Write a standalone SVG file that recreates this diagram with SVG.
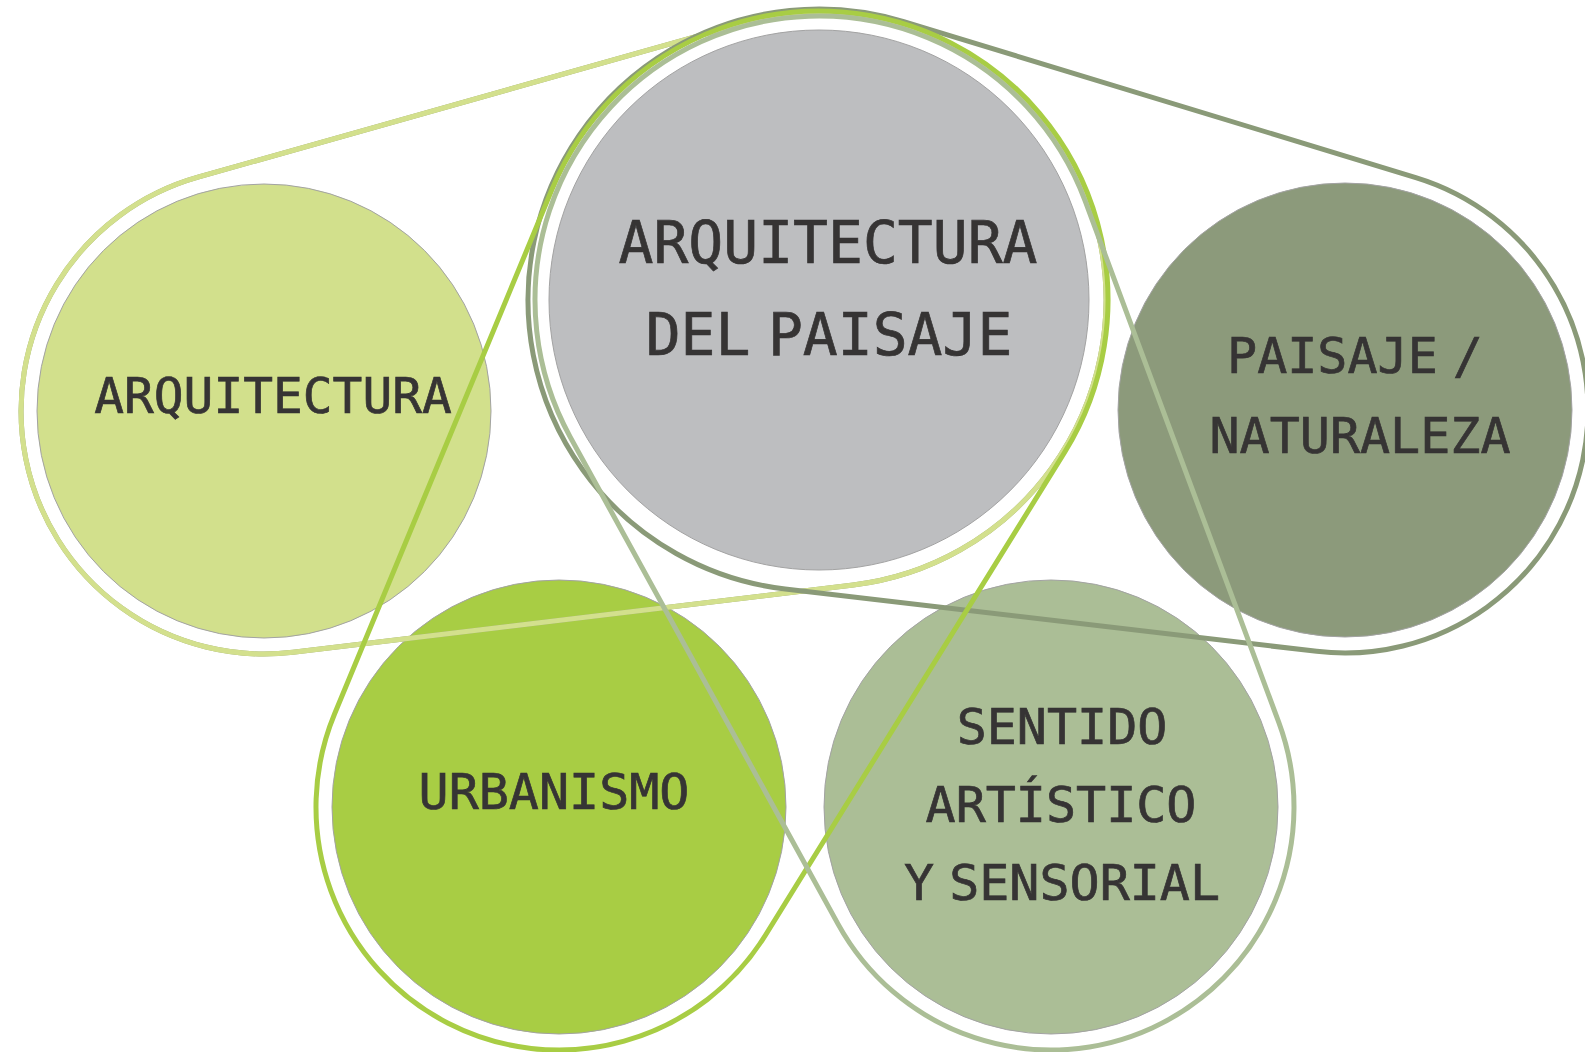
<svg xmlns="http://www.w3.org/2000/svg" width="1585" height="1052" viewBox="0 0 1585 1052">
<style>
.node{stroke:#a3a3a3;stroke-width:1}
.lbl{font-family:"DejaVu Sans Mono","Liberation Mono",monospace;fill:#363434;stroke:#363434;stroke-width:0.7;text-anchor:middle;word-spacing:-0.3em}
.loop{fill:none;stroke-width:5;stroke-linejoin:round}
</style>
<rect width="1585" height="1052" fill="#ffffff"/>
<g id="node-center"><circle class="node" cx="819" cy="300" r="270" fill="#bdbec0"/></g>
<g id="node-arquitectura"><circle class="node" cx="264" cy="411" r="227" fill="#d2e08c"/></g>
<g id="node-paisaje"><circle class="node" cx="1345" cy="410" r="227" fill="#8c9a7b"/></g>
<g id="node-urbanismo"><circle class="node" cx="559" cy="807" r="227" fill="#a8cd44"/></g>
<g id="node-sentido"><circle class="node" cx="1051" cy="807" r="227" fill="#abbe96"/></g>
<g id="connectors">
<path class="loop" stroke="#9ca878" stroke-width="6.5" d="M197.96,177.15 L741.01,23.81 A287,287 0 1 1 853.24,584.95 L292.99,652.26 A243,243 0 0 1 197.96,177.15 Z"/>
<path class="loop" stroke="#d3e08d" stroke-width="4" d="M197.96,177.15 L741.01,23.81 A287,287 0 1 1 853.24,584.95 L292.99,652.26 A243,243 0 0 1 197.96,177.15 Z"/>
<path class="loop" stroke="#8a9a78" d="M1415.79,177.54 L903.77,21.62 A291,291 0 1 0 785.11,589.02 L1316.70,651.34 A243,243 0 0 0 1415.79,177.54 Z"/>
<path class="loop" stroke="#a8cd44" d="M334.53,713.93 L552.03,189.31 A289,289 0 1 1 1064.67,452.20 L765.57,934.98 A243,243 0 0 1 334.53,713.93 Z"/>
<path class="loop" stroke="#abbe96" d="M1278.80,722.41 L1085.24,201.13 A284,284 0 1 0 570.14,436.84 L838.07,924.09 A243,243 0 0 0 1278.80,722.41 Z"/>
</g>
<g id="labels">
<text class="lbl" font-size="58" x="828" y="263">ARQUITECTURA</text>
<text class="lbl" font-size="58" x="829" y="355">DEL PAISAJE</text>
<text class="lbl" font-size="49.5" x="273" y="413">ARQUITECTURA</text>
<text class="lbl" font-size="50" x="1355" y="373">PAISAJE /</text>
<text class="lbl" font-size="50" x="1360" y="453">NATURALEZA</text>
<text class="lbl" font-size="50" x="554" y="809">URBANISMO</text>
<text class="lbl" font-size="50" x="1062" y="744">SENTIDO</text>
<text class="lbl" font-size="50" x="1061" y="822">ARTÍSTICO</text>
<text class="lbl" font-size="50" x="1062" y="900">Y SENSORIAL</text>
</g>
</svg>
